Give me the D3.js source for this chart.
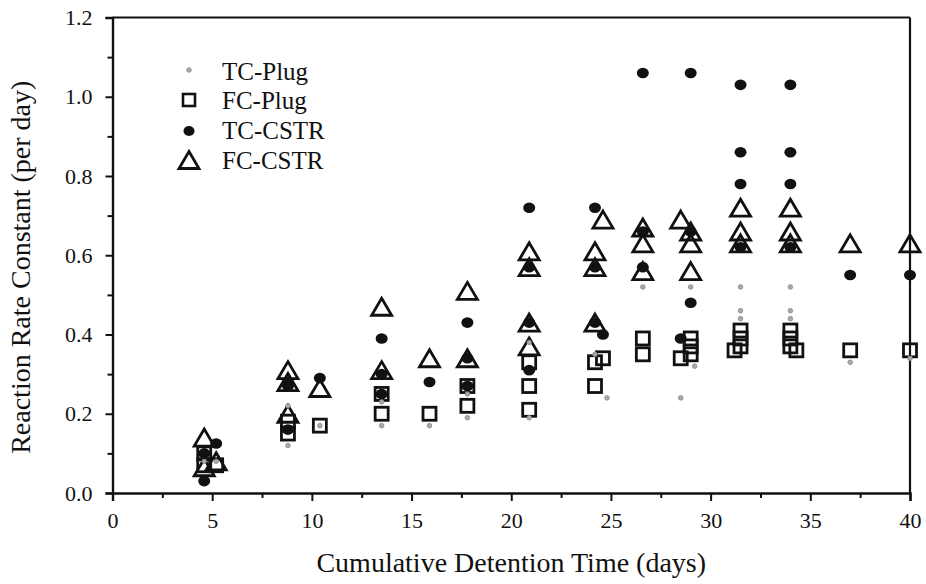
<!DOCTYPE html>
<html>
<head>
<meta charset="utf-8">
<script src="https://cdn.jsdelivr.net/npm/d3@7/dist/d3.min.js"></script>
<style>
  html, body { margin: 0; padding: 0; background: #fff; }
  svg { display: block; }
  text { font-family: "Liberation Serif", "DejaVu Serif", serif; fill: #111; }
</style>
</head>
<body>
<svg id="chart" width="926" height="584"></svg>
<script>
// ---- Data ----
const xTicks = [0, 5, 10, 15, 20, 25, 30, 35, 40];
const yTicks = [0.0, 0.2, 0.4, 0.6, 0.8, 1.0, 1.2];

const tcPlugX = [4.6, 5.2, 8.8, 8.8, 10.4, 13.5, 13.5, 15.9, 17.8, 17.8, 20.9, 20.9, 24.2, 24.8, 26.6, 29.0, 28.5, 29.2, 31.5, 31.5, 31.5, 34.0, 34.0, 34.0, 37.0, 40.0];
const tcPlugY = [0.08, 0.08, 0.12, 0.22, 0.17, 0.17, 0.23, 0.17, 0.19, 0.25, 0.19, 0.38, 0.35, 0.24, 0.52, 0.52, 0.24, 0.32, 0.52, 0.46, 0.44, 0.52, 0.46, 0.44, 0.33, 0.34];

const fcPlugX = [4.6, 4.6, 5.2, 8.8, 8.8, 10.4, 13.5, 13.5, 15.9, 17.8, 17.8, 20.9, 20.9, 20.9, 24.2, 24.6, 24.2, 26.6, 26.6, 28.5, 29.0, 29.0, 29.0, 31.5, 31.5, 31.5, 31.2, 34.0, 34.0, 34.0, 34.3, 37.0, 40.0];
const fcPlugY = [0.10, 0.07, 0.07, 0.18, 0.15, 0.17, 0.25, 0.20, 0.20, 0.27, 0.22, 0.33, 0.27, 0.21, 0.33, 0.34, 0.27, 0.39, 0.35, 0.34, 0.39, 0.37, 0.35, 0.41, 0.39, 0.37, 0.36, 0.41, 0.39, 0.37, 0.36, 0.36, 0.36];

const tcCstrX = [4.6, 4.6, 5.2, 8.8, 8.8, 8.8, 10.4, 13.5, 13.5, 13.5, 15.9, 17.8, 17.8, 17.8, 20.9, 20.9, 20.9, 20.9, 24.2, 24.2, 24.2, 24.6, 26.6, 26.6, 26.6, 29.0, 29.0, 29.0, 28.5, 31.5, 31.5, 31.5, 31.5, 34.0, 34.0, 34.0, 34.0, 37.0, 40.0];
const tcCstrY = [0.10, 0.03, 0.125, 0.28, 0.27, 0.16, 0.29, 0.39, 0.30, 0.25, 0.28, 0.43, 0.34, 0.27, 0.72, 0.57, 0.43, 0.31, 0.72, 0.57, 0.43, 0.40, 1.06, 0.66, 0.57, 1.06, 0.66, 0.48, 0.39, 1.03, 0.86, 0.78, 0.62, 1.03, 0.86, 0.78, 0.62, 0.55, 0.55];

const fcCstrX = [4.6, 4.6, 5.2, 8.8, 8.8, 8.8, 10.4, 13.5, 13.5, 15.9, 17.8, 17.8, 20.9, 20.9, 20.9, 20.9, 24.2, 24.6, 24.2, 24.2, 26.6, 26.6, 26.6, 28.5, 29.0, 29.0, 29.0, 31.5, 31.5, 31.5, 34.0, 34.0, 34.0, 37.0, 40.0];
const fcCstrY = [0.14, 0.065, 0.08, 0.31, 0.28, 0.20, 0.265, 0.47, 0.31, 0.34, 0.51, 0.34, 0.61, 0.57, 0.43, 0.37, 0.61, 0.69, 0.57, 0.43, 0.67, 0.63, 0.56, 0.69, 0.66, 0.63, 0.56, 0.72, 0.66, 0.63, 0.72, 0.66, 0.63, 0.63, 0.63];

const legendLabels = ["TC-Plug", "FC-Plug", "TC-CSTR", "FC-CSTR"];

// ---- Layout ----
const margin = { left: 112.5, right: 16, top: 17.5, bottom: 91 };
const W = 926, H = 584;
const svg = d3.select("#chart");

const x = d3.scaleLinear().domain([0, 40]).range([margin.left, W - margin.right]);
const y = d3.scaleLinear().domain([0, 1.2]).range([H - margin.bottom, margin.top]);

const zip = (xs, ys) => xs.map((v, i) => ({ x: v, y: ys[i] }));

// frame (top & right)
svg.append("line").attr("x1", x(0)).attr("x2", x(40)).attr("y1", y(1.2)).attr("y2", y(1.2))
  .attr("stroke", "#111").attr("stroke-width", 2);
svg.append("line").attr("x1", x(40)).attr("x2", x(40)).attr("y1", y(1.2)).attr("y2", y(0))
  .attr("stroke", "#111").attr("stroke-width", 2.2);

// x axis
svg.append("g").attr("transform", `translate(0,${y(0)})`)
  .call(d3.axisBottom(x).tickValues(xTicks).tickSize(8).tickPadding(11).tickFormat(d3.format("d")));
svg.append("g").attr("transform", `translate(0,${y(0)})`)
  .call(d3.axisBottom(x).tickValues(d3.range(2.5, 40, 5)).tickSize(5).tickFormat(""))
  .call(g => g.select(".domain").remove());

// y axis
svg.append("g").attr("transform", `translate(${x(0)},0)`)
  .call(d3.axisLeft(y).tickValues(yTicks).tickSize(7).tickPadding(13).tickFormat(d3.format(".1f")));
svg.append("g").attr("transform", `translate(${x(0)},0)`)
  .call(d3.axisLeft(y).tickValues(d3.range(0.1, 1.2, 0.2)).tickSize(5).tickFormat(""))
  .call(g => g.select(".domain").remove());

svg.selectAll(".domain").attr("stroke", "#111").attr("stroke-width", 2.4);
svg.selectAll(".tick line").attr("stroke", "#111").attr("stroke-width", 2);
svg.selectAll(".tick text").style("font-family", "'Liberation Serif', serif").style("font-size", "22px").attr("fill", "#111");

// axis titles
svg.append("text").attr("x", (x(0) + x(40)) / 2).attr("y", 572)
  .attr("text-anchor", "middle").style("font-size", "28px").text("Cumulative Detention Time (days)");
svg.append("text").attr("transform", `translate(30,${(y(0) + y(1.2)) / 2 + 12}) rotate(-90)`)
  .attr("text-anchor", "middle").style("font-size", "28px").text("Reaction Rate Constant (per day)");

// markers
const triPath = "M0,-9.5L10,7.5L-10,7.5Z";
const plot = svg.append("g");

plot.selectAll(".fccstr").data(zip(fcCstrX, fcCstrY)).join("path")
  .attr("d", triPath)
  .attr("transform", d => `translate(${x(d.x)},${y(d.y) + 1})`)
  .attr("fill", "none").attr("stroke", "#111").attr("stroke-width", 2.8).attr("stroke-linejoin", "miter");

plot.selectAll(".fcplug").data(zip(fcPlugX, fcPlugY)).join("rect")
  .attr("x", d => x(d.x) - 6.5).attr("y", d => y(d.y) - 6.5)
  .attr("width", 13).attr("height", 13)
  .attr("fill", "none").attr("stroke", "#111").attr("stroke-width", 2.8);

plot.selectAll(".tcplug").data(zip(tcPlugX, tcPlugY)).join("circle")
  .attr("cx", d => x(d.x)).attr("cy", d => y(d.y)).attr("r", 2.3)
  .attr("fill", "#aaa").attr("stroke", "#888").attr("stroke-width", 0.8);

plot.selectAll(".tccstr").data(zip(tcCstrX, tcCstrY)).join("ellipse")
  .attr("cx", d => x(d.x)).attr("cy", d => y(d.y)).attr("rx", 6).attr("ry", 5.3)
  .attr("fill", "#111");

// legend
const legY = [72, 101, 131, 161];
const lx = 189, tx = 222;
const leg = svg.append("g");
leg.append("circle").attr("cx", lx).attr("cy", legY[0] - 2).attr("r", 2.3).attr("fill", "#aaa").attr("stroke", "#888").attr("stroke-width", 0.8);
leg.append("rect").attr("x", lx - 6).attr("y", legY[1] - 7).attr("width", 12).attr("height", 12)
  .attr("fill", "none").attr("stroke", "#111").attr("stroke-width", 2.6);
leg.append("ellipse").attr("cx", lx).attr("cy", legY[2]).attr("rx", 5.5).attr("ry", 5).attr("fill", "#111");
leg.append("path").attr("d", triPath).attr("transform", `translate(${lx},${legY[3]})`)
  .attr("fill", "none").attr("stroke", "#111").attr("stroke-width", 2.8);
leg.selectAll("text.lg").data(legendLabels).join("text")
  .attr("x", tx).attr("y", (d, i) => legY[i] + 8)
  .style("font-size", "25px").text(d => d);
</script>
</body>
</html>
